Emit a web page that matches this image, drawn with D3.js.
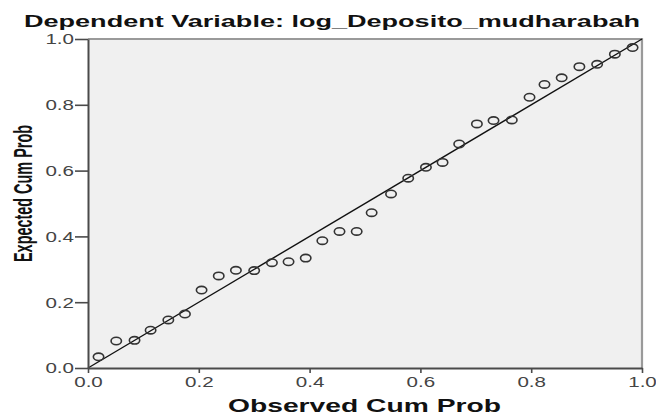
<!DOCTYPE html>
<html>
<head>
<meta charset="utf-8">
<script src="https://cdn.jsdelivr.net/npm/d3@7"></script>
<style>
  body { margin: 0; background: #fff; }
  svg { display: block; }
</style>
</head>
<body>
<svg id="svg"></svg>
<script>
// observed vs expected cumulative probability
var observed = [0.019, 0.051, 0.084, 0.113, 0.145, 0.175, 0.205, 0.236,
                0.267, 0.300, 0.332, 0.362, 0.393, 0.423, 0.454, 0.485,
                0.512, 0.547, 0.578, 0.610, 0.640, 0.670, 0.702, 0.732,
                0.765, 0.797, 0.824, 0.855, 0.887, 0.919, 0.951, 0.983];
var expected = [0.034, 0.082, 0.084, 0.115, 0.146, 0.164, 0.237, 0.280,
                0.297, 0.296, 0.320, 0.323, 0.334, 0.387, 0.415, 0.415,
                0.472, 0.529, 0.577, 0.610, 0.625, 0.681, 0.742, 0.752,
                0.754, 0.823, 0.862, 0.882, 0.916, 0.923, 0.954, 0.974];
var tickValues = [0, 0.2, 0.4, 0.6, 0.8, 1.0];
var titleText = "Dependent Variable: log_Deposito_mudharabah",
    xTitle = "Observed Cum Prob",
    yTitle = "Expected Cum Prob";

var width = 656,
    height = 416,
    stretch = 1.42,   // the picture is widened horizontally
    font = "Arial, 'Liberation Sans', sans-serif";

var svg = d3.select("#svg")
    .attr("width", width)
    .attr("height", height);

var x = d3.scaleLinear().domain([0, 1]).range([88, 642]),
    y = d3.scaleLinear().domain([0, 1]).range([368, 39]);

// plot background
svg.append("rect")
    .attr("x", x(0)).attr("y", y(1))
    .attr("width", x(1) - x(0)).attr("height", y(0) - y(1))
    .attr("fill", "#f0f0f0");

// top / right frame
svg.append("path")
    .attr("d", "M" + x(0) + "," + y(1) + "H" + x(1) + "V" + y(0))
    .attr("fill", "none")
    .attr("stroke", "#9a9a9a")
    .attr("stroke-width", 2.2);

// reference line
svg.append("line")
    .attr("x1", x(0)).attr("y1", y(0))
    .attr("x2", x(1)).attr("y2", y(1))
    .attr("stroke", "#111")
    .attr("stroke-width", 1.4);

// points
var pts = observed.map(function(d, i){ return {o: d, e: expected[i]}; });
svg.append("g").selectAll("ellipse")
    .data(pts)
    .enter().append("ellipse")
    .attr("cx", function(d){ return x(d.o); })
    .attr("cy", function(d){ return y(d.e); })
    .attr("rx", 5.2)
    .attr("ry", 3.7)
    .attr("fill", "none")
    .attr("stroke", "#333")
    .attr("stroke-width", 1.6);

// axes
var fmt = d3.format(".1f");

var yAxis = svg.append("g")
    .attr("transform", "translate(" + x(0) + ",0)")
    .call(d3.axisLeft(y).tickValues(tickValues).tickFormat(fmt).tickSize(13).tickSizeOuter(0));

var xAxis = svg.append("g")
    .attr("transform", "translate(0," + y(0) + ")")
    .call(d3.axisBottom(x).tickValues(tickValues).tickFormat(fmt).tickSize(5).tickSizeOuter(0));

[yAxis, xAxis].forEach(function(g){
    g.select(".domain").attr("stroke", "#4a4a4a").attr("stroke-width", 2);
    g.selectAll(".tick line").attr("stroke", "#4a4a4a").attr("stroke-width", 1.6);
    g.selectAll("text")
        .attr("font-family", font)
        .attr("font-size", 14.5)
        .attr("fill", "#444");
});

yAxis.selectAll(".tick text")
    .attr("x", null)
    .attr("dy", null)
    .attr("dominant-baseline", "central")
    .attr("transform", "translate(-14,0) scale(" + stretch + ",1)");

xAxis.selectAll(".tick text")
    .attr("y", null)
    .attr("dy", null)
    .attr("transform", "translate(0,19) scale(" + stretch + ",1)");

// titles
svg.append("text")
    .attr("x", 24).attr("y", 27)
    .attr("font-family", font)
    .attr("font-weight", "bold")
    .attr("font-size", 17)
    .attr("textLength", 616)
    .attr("lengthAdjust", "spacingAndGlyphs")
    .attr("fill", "#111")
    .text(titleText);

svg.append("text")
    .attr("x", 228).attr("y", 412)
    .attr("font-family", font)
    .attr("font-weight", "bold")
    .attr("font-size", 17.5)
    .attr("textLength", 273)
    .attr("lengthAdjust", "spacingAndGlyphs")
    .attr("fill", "#111")
    .text(xTitle);

svg.append("text")
    .attr("transform", "translate(32,193.5) scale(1.55,1) rotate(-90)")
    .attr("text-anchor", "middle")
    .attr("font-family", font)
    .attr("font-weight", "bold")
    .attr("font-size", 16.5)
    .attr("textLength", 137)
    .attr("lengthAdjust", "spacingAndGlyphs")
    .attr("fill", "#111")
    .text(yTitle);
</script>
</body>
</html>
